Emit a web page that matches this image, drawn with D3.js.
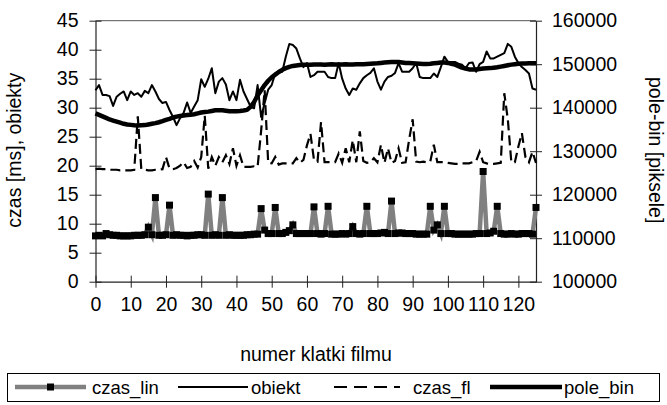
<!DOCTYPE html>
<html>
<head>
<meta charset="utf-8">
<script src="https://cdn.jsdelivr.net/npm/d3@7"></script>
<style>
  body { margin: 0; background: #fff; }
  svg { display: block; font-family: Arial, "Liberation Sans", sans-serif; }
</style>
</head>
<body>
<div id="chart"></div>
<script>
// frame number 0..125
const frames = d3.range(0, 126);

const czasLin = [
  7.9, 8.0, 7.9, 8.3, 8.1, 8.0, 8.0, 7.9, 7.9, 7.9,
  7.9, 8.0, 8.0, 8.0, 8.1, 9.4, 8.1, 14.5, 8.0, 8.0,
  8.1, 13.2, 8.0, 8.1, 8.0, 8.0, 7.9, 8.0, 8.0, 8.1,
  8.1, 8.0, 15.1, 8.0, 8.1, 8.0, 14.5, 8.0, 8.1, 8.0,
  8.0, 8.0, 8.0, 8.1, 8.1, 8.2, 8.2, 12.6, 8.9, 8.3,
  8.3, 12.8, 8.3, 8.3, 8.5, 8.8, 9.8, 8.3, 8.3, 8.3,
  8.3, 8.3, 12.9, 8.3, 8.2, 8.3, 13.0, 8.2, 8.2, 8.2,
  8.3, 8.2, 8.3, 9.5, 8.3, 8.2, 8.3, 13.0, 8.3, 8.3,
  8.3, 8.4, 8.5, 8.3, 13.9, 8.3, 8.4, 8.4, 8.3, 8.3,
  8.3, 8.2, 8.2, 8.2, 8.2, 13.0, 8.9, 9.8, 8.3, 13.0,
  8.3, 8.3, 8.2, 8.2, 8.2, 8.2, 8.2, 8.2, 8.3, 8.3,
  19.0, 8.3, 8.4, 8.7, 13.0, 8.3, 8.2, 8.2, 8.3, 8.2,
  8.2, 8.3, 8.3, 8.3, 8.2, 12.8
];

const obiekt = [
  33.0, 33.9, 32.2, 32.2, 32.0, 30.3, 31.9, 32.4, 32.8, 31.3,
  32.8, 32.2, 32.5, 31.9, 32.9, 32.5, 33.9, 32.8, 31.5, 30.8,
  31.0, 29.6, 28.4, 27.0, 28.2, 29.1, 30.9, 29.1, 30.2, 31.3,
  34.9, 33.6, 35.0, 36.8, 32.5, 34.5, 35.1, 34.0, 31.3, 32.8,
  31.3, 34.8, 32.8, 31.5, 30.2, 29.9, 33.9, 28.4, 30.8, 33.1,
  33.9, 35.9, 36.2, 36.2, 38.8, 41.0, 40.8, 40.2, 38.5, 37.0,
  37.7, 35.3, 35.6, 36.2, 36.2, 36.2, 35.3, 35.1, 35.1, 37.7,
  35.0, 33.3, 32.2, 33.3, 33.1, 34.2, 35.1, 35.6, 36.0, 36.8,
  34.5, 33.1, 34.5, 35.3, 35.5, 36.0, 37.7, 36.2, 36.2, 36.2,
  36.8, 37.7, 35.3, 35.1, 35.1, 35.1, 35.9, 35.3, 37.0, 38.8,
  37.9, 37.9, 37.9, 37.6, 37.4, 36.8, 37.7, 37.8, 36.2, 37.5,
  37.9, 39.7, 38.5, 38.5, 38.8, 39.1, 39.4, 41.0, 40.5, 38.8,
  37.7, 37.0, 36.5, 35.9, 33.3, 33.1
];

const czasFl = [
  19.4, 19.5, 19.4, 19.4, 19.3, 19.3, 19.3, 19.2, 19.2, 19.2,
  19.2, 19.3, 28.5, 19.4, 19.3, 19.2, 19.2, 19.3, 19.3, 19.4,
  21.5, 19.5, 19.4, 19.6, 20.0, 20.6, 19.6, 19.8, 20.8, 19.7,
  21.5, 28.6, 19.5, 21.5, 20.0, 21.5, 20.6, 21.8, 20.3, 23.0,
  20.0, 21.8, 19.8, 19.8, 19.8, 19.9, 19.8, 26.0, 33.0, 20.5,
  20.4, 21.5, 20.2, 20.4, 20.4, 20.4, 20.4, 21.3, 20.5, 21.0,
  23.5, 25.5, 21.0, 20.7, 27.5, 20.6, 20.6, 20.6, 20.6, 22.1,
  20.5, 23.0, 20.6, 24.4, 20.6, 25.9, 20.8, 20.5, 20.6, 21.3,
  20.6, 23.6, 20.5, 23.0, 20.5, 20.8, 23.0, 20.5, 20.6, 24.5,
  28.0, 20.7, 20.6, 20.7, 20.6, 20.7, 23.6, 20.6, 20.6, 20.6,
  20.5, 20.4, 20.3, 20.3, 20.4, 20.4, 20.4, 20.6, 20.8, 22.4,
  20.6, 20.4, 20.3, 20.3, 20.4, 20.5, 32.5, 28.0, 20.6, 20.6,
  23.3, 25.6, 21.5, 20.6, 22.4, 20.5
];

const poleBin = [
  138700, 138350, 138000, 137650, 137300, 137050, 136800, 136550, 136300, 136150,
  136050, 135950, 135900, 135950, 136000, 136150, 136300, 136450, 136650, 136900,
  137200, 137450, 137750, 137950, 138100, 138200, 138300, 138400, 138500, 138700,
  138900, 139000, 139100, 139250, 139400, 139400, 139400, 139300, 139200, 139200,
  139200, 139250, 139350, 139500, 140200, 141300, 142800, 144000, 145200, 146200,
  147000, 147600, 148200, 148700, 149100, 149400, 149600, 149700, 149800, 149850,
  149900, 149900, 149950, 149950, 149950, 149900, 149950, 150000, 149950, 149950,
  149950, 150000, 149950, 149950, 150000, 150000, 150000, 150050, 150100, 150150,
  150200, 150300, 150400, 150450, 150500, 150500, 150500, 150400, 150300, 150250,
  150200, 150150, 150100, 150050, 150050, 150100, 150200, 150300, 150400, 150400,
  150300, 150100, 149900, 149550, 149200, 149000, 148800, 148800, 148800, 148900,
  149000, 149050, 149100, 149200, 149300, 149450, 149600, 149750, 149900, 150000,
  150100, 150150, 150150, 150200, 150200, 150200
];

const xTicks = d3.range(0, 121, 10);
const leftTicks = d3.range(0, 46, 5);
const rightTicks = d3.range(100000, 160001, 10000);

const legendItems = [
  { key: "czas_lin", label: "czas_lin" },
  { key: "obiekt", label: "obiekt" },
  { key: "czas_fl", label: "czas_fl" },
  { key: "pole_bin", label: "pole_bin" }
];

function drawChart() {
  const W = 667, H = 405;
  const plot = { left: 95.5, right: 536, top: 20.7, bottom: 281.7 };
  const fontSize = "19.5px";
  const legendFont = "18.5px";

  const svg = d3.select("#chart").append("svg")
    .attr("width", W)
    .attr("height", H);

  const x = d3.scaleLinear().domain([0, 125]).range([plot.left, plot.right]);
  const yLeft = d3.scaleLinear().domain([0, 45]).range([plot.bottom, plot.top]);
  const yRight = d3.scaleLinear().domain([100000, 160000]).range([plot.bottom, plot.top]);

  // top border of plot area
  svg.append("line")
    .attr("x1", plot.left).attr("x2", plot.right)
    .attr("y1", plot.top).attr("y2", plot.top)
    .attr("stroke", "#555").attr("stroke-width", 1);

  // axes
  const xAxis = svg.append("g")
    .attr("transform", `translate(0,${plot.bottom})`)
    .call(d3.axisBottom(x).tickValues(xTicks).tickSizeInner(6).tickSizeOuter(0).tickPadding(9));

  xAxis.selectAll(".tick line").attr("y1", -6);

  const leftAxis = svg.append("g")
    .attr("transform", `translate(${plot.left},0)`)
    .call(d3.axisLeft(yLeft).tickValues(leftTicks).tickSizeInner(6).tickSizeOuter(0).tickPadding(11));
  leftAxis.selectAll(".tick line").attr("x1", 6);

  const rightAxis = svg.append("g")
    .attr("transform", `translate(${plot.right},0)`)
    .call(d3.axisRight(yRight).tickValues(rightTicks).tickSizeInner(6).tickSizeOuter(0).tickPadding(10)
      .tickFormat(d3.format("d")));
  rightAxis.selectAll(".tick line").attr("x1", -6);

  [xAxis, leftAxis, rightAxis].forEach(g => {
    g.select(".domain").attr("stroke", "#222").attr("stroke-width", 1.2);
    g.selectAll(".tick line").attr("stroke", "#222");
    g.selectAll(".tick text")
      .attr("fill", "#000")
      .style("font-size", fontSize)
      .style("font-family", "Arial, 'Liberation Sans', sans-serif");
  });

  // axis titles
  svg.append("text")
    .attr("transform", `translate(21,${(plot.top + plot.bottom) / 2 - 1}) rotate(-90)`)
    .attr("text-anchor", "middle")
    .style("font-size", fontSize)
    .text("czas [ms], obiekty");

  svg.append("text")
    .attr("transform", `translate(649,${(plot.top + plot.bottom) / 2 - 1}) rotate(90)`)
    .attr("text-anchor", "middle")
    .style("font-size", fontSize)
    .text("pole-bin [piksele]");

  svg.append("text")
    .attr("x", 316)
    .attr("y", 361)
    .attr("text-anchor", "middle")
    .style("font-size", fontSize)
    .text("numer klatki filmu");

  // series
  const lineLeft = values => d3.line()
    .x((d, i) => x(frames[i]))
    .y(d => yLeft(d))(values);

  svg.append("path")
    .attr("d", lineLeft(czasLin))
    .attr("fill", "none")
    .attr("stroke", "#808080")
    .attr("stroke-width", 4.5)
    .attr("stroke-linejoin", "miter");

  svg.append("g").selectAll("rect")
    .data(czasLin)
    .join("rect")
    .attr("x", (d, i) => x(frames[i]) - 3.5)
    .attr("y", d => yLeft(d) - 3.5)
    .attr("width", 7)
    .attr("height", 7)
    .attr("fill", "#000");

  svg.append("path")
    .attr("d", lineLeft(obiekt))
    .attr("fill", "none")
    .attr("stroke", "#000")
    .attr("stroke-width", 2)
    .attr("stroke-linejoin", "round");

  svg.append("path")
    .attr("d", lineLeft(czasFl))
    .attr("fill", "none")
    .attr("stroke", "#000")
    .attr("stroke-width", 2.2)
    .attr("stroke-dasharray", "10,5");

  svg.append("path")
    .attr("d", d3.line().x((d, i) => x(frames[i])).y(d => yRight(d))(poleBin))
    .attr("fill", "none")
    .attr("stroke", "#000")
    .attr("stroke-width", 4.5)
    .attr("stroke-linejoin", "round");

  // legend
  const legend = svg.append("g");
  legend.append("rect")
    .attr("x", 7.5).attr("y", 373.5)
    .attr("width", 652).attr("height", 28)
    .attr("fill", "#fff")
    .attr("stroke", "#000")
    .attr("stroke-width", 1);

  const ly = 387;
  const sampleX = [[15, 86], [178, 248], [334, 400], [490, 562]];
  const textX = [92, 251, 413, 564];

  legendItems.forEach((item, i) => {
    const [x1, x2] = sampleX[i];
    const ln = legend.append("line")
      .attr("x1", x1).attr("x2", x2)
      .attr("y1", ly).attr("y2", ly);
    if (item.key === "czas_lin") {
      ln.attr("stroke", "#808080").attr("stroke-width", 4.5);
      legend.append("rect")
        .attr("x", (x1 + x2) / 2 - 3.5).attr("y", ly - 3.5)
        .attr("width", 7).attr("height", 7).attr("fill", "#000");
    } else if (item.key === "obiekt") {
      ln.attr("stroke", "#000").attr("stroke-width", 2);
    } else if (item.key === "czas_fl") {
      ln.attr("stroke", "#000").attr("stroke-width", 2.2).attr("stroke-dasharray", "13,7");
    } else {
      ln.attr("stroke", "#000").attr("stroke-width", 4.5);
    }
    legend.append("text")
      .attr("x", textX[i])
      .attr("y", ly + 7)
      .style("font-size", legendFont)
      .text(item.label);
  });
}

drawChart();
</script>
</body>
</html>
